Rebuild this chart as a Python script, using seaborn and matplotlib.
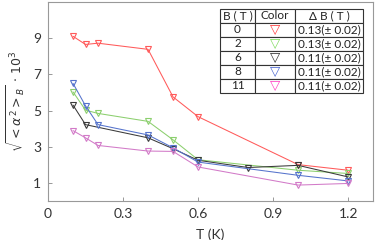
import numpy as np
import pandas as pd
import matplotlib
matplotlib.use('Agg')
import matplotlib.pyplot as plt
import seaborn as sns

# temperatures (K) and sqrt(<alpha^2>_B) * 10^3 per field
t_red = [0.1, 0.15, 0.2, 0.4, 0.5, 0.6, 1.0, 1.2]
v_red = [9.1, 8.65, 8.72, 8.38, 5.75, 4.66, 2.01, 1.70]

t_green = [0.1, 0.15, 0.2, 0.4, 0.5, 0.6, 1.0, 1.2]
v_green = [6.03, 5.02, 4.84, 4.40, 3.38, 2.28, 1.70, 1.52]

t_black = [0.1, 0.15, 0.4, 0.5, 0.6, 0.8, 1.0, 1.2]
v_black = [5.30, 4.22, 3.49, 2.89, 2.25, 1.85, 1.97, 1.33]

t_blue = [0.1, 0.15, 0.2, 0.4, 0.5, 0.6, 1.0, 1.2]
v_blue = [6.50, 5.26, 4.22, 3.65, 2.94, 2.15, 1.42, 1.11]

t_mag = [0.1, 0.15, 0.2, 0.4, 0.5, 0.6, 1.0, 1.2]
v_mag = [3.89, 3.49, 3.07, 2.76, 2.74, 1.88, 0.88, 0.97]

fields = ['0', '2', '6', '8', '11']
deltas = ['0.13(± 0.02)', '0.13(± 0.02)', '0.11(± 0.02)', '0.11(± 0.02)', '0.11(± 0.02)']
line_colors = ['#ff5a5a', '#8ccf6e', '#3a3a3a', '#5573cc', '#d27ac8']
table_colors = ['#ff3b3b', '#7fdc5c', '#333333', '#4a66d0', '#ff3fc4']

xticks = [0, 0.3, 0.6, 0.9, 1.2]
xticklabels = ['0', '0.3', '0.6', '0.9', '1.2']
yticks = [1, 3, 5, 7, 9]

sns.set_style('white')
plt.rcParams['font.family'] = ['Lato', 'DejaVu Sans']
plt.rcParams['mathtext.fontset'] = 'dejavusans'

fig, ax = plt.subplots(figsize=(3.75, 2.4), dpi=100)
fig.subplots_adjust(left=0.128, right=0.995, top=0.992, bottom=0.1625)

series = [(t_red, v_red), (t_green, v_green), (t_black, v_black),
          (t_blue, v_blue), (t_mag, v_mag)]
for (tt, vv), c in zip(series, line_colors):
    df = pd.DataFrame({'T': tt, 'v': vv})
    sns.lineplot(data=df, x='T', y='v', ax=ax, color=c, lw=0.75,
                 marker='v', markersize=4.5, markerfacecolor='none',
                 markeredgecolor=c, markeredgewidth=0.8)

ax.set_xlim(0, 1.3)
ax.set_ylim(0, 11)
ax.set_xticks(xticks)
ax.set_xticklabels(xticklabels)
ax.set_yticks(yticks)
ax.tick_params(direction='in', length=3, width=0.6, color='#888888',
               labelsize=10, labelcolor='#333333', pad=5,
               bottom=True, left=True)
for s in ax.spines.values():
    s.set_color('#999999')
    s.set_linewidth(0.8)

ax.set_xlabel('T (K)', fontsize=10, color='#333333', labelpad=6)
ax.set_ylabel(r'$\sqrt{<\alpha^{\,2}>_{B}}\,\cdot\,10^3$', fontsize=9,
              color='#333333', labelpad=4)

cell_text = [[f, '▽', d] for f, d in zip(fields, deltas)]
tab = ax.table(cellText=cell_text, colLabels=['B ( T )', 'Color', 'Δ B ( T )'],
               cellLoc='center', bbox=[0.529, 0.543, 0.44, 0.422],
               colWidths=[0.245, 0.28, 0.475])
tab.auto_set_font_size(False)
for (r, c), cell in tab.get_celld().items():
    cell.set_linewidth(0.8)
    cell.set_edgecolor('#333333')
    cell.get_text().set_fontsize(8.5)
    cell.get_text().set_color('#222222')
    cell.get_text().set_family(['Lato', 'DejaVu Sans'])
    if r > 0 and c == 1:
        cell.get_text().set_color(table_colors[r - 1])
        cell.get_text().set_family(['DejaVu Sans'])
        cell.get_text().set_fontsize(9.5)

fig.savefig('out.png', dpi=100)
